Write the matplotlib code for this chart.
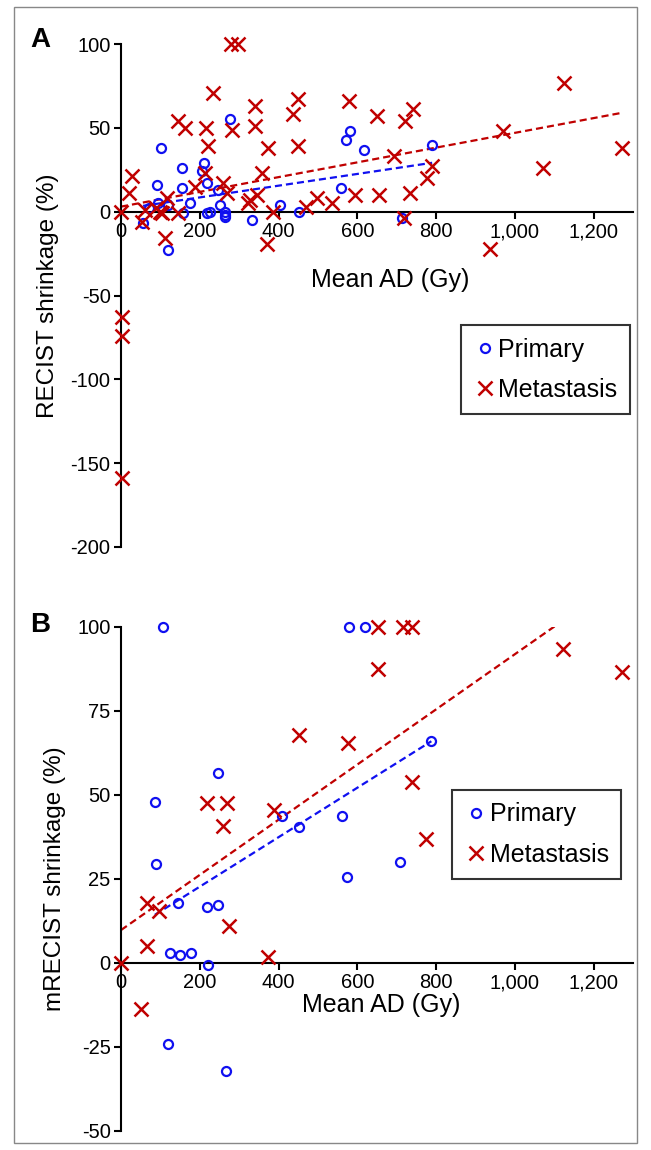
import matplotlib
matplotlib.use("Agg")
import matplotlib.pyplot as plt
from matplotlib.patches import Rectangle
from matplotlib.ticker import FuncFormatter

plt.rcParams["font.family"] = ["Liberation Sans", "DejaVu Sans"]
plt.rcParams["axes.unicode_minus"] = False

# ---------- data ----------
# Panel A: RECIST shrinkage vs mean absorbed dose
a_primary_x = [277, 102, 155, 211, 206, 218, 91, 155, 247, 175, 120, 94, 252, 218, 226,
               264, 264, 265, 157, 56, 72, 332, 404, 452, 120, 582, 572, 616, 790, 559, 714]
a_primary_y = [55, 38, 26, 29, 24, 17, 16, 14, 13, 5, 4, 5, 4, -1, 0,
               0, -2, -3, -1, -7, 2, -5, 4, 0, -23, 48, 43, 37, 40, 14, -4]

a_met_x = [280, 298, 234, 145, 163, 216, 282, 221, 341, 341, 373, 450, 437, 450, 28, 20,
           0, 53, 61, 90, 100, 105, 117, 145, 188, 213, 259, 269, 328, 345, 358, 387,
           112, 371, 323, 579, 650, 742, 722, 694, 790, 778, 734, 656, 595, 536, 498,
           470, 719, 971, 1126, 1072, 1273, 938, 2, 2, 2]
a_met_y = [100, 100, 71, 54, 50, 50, 49, 39, 63, 51, 38, 67, 58, 39, 21, 11,
           0, -6, 1, 2, 0, -1, 8, -1, 15, 23, 17, 11, 7, 10, 23, 0,
           -16, -19, 5, 66, 57, 61, 54, 33, 27, 20, 11, 10, 10, 5, 8,
           3, -4, 48, 77, 26, 38, -22, -63, -74, -159]

# Panel B: mRECIST shrinkage vs mean absorbed dose
b_primary_x = [107, 247, 86, 89, 145, 219, 247, 125, 150, 177, 221, 409, 452, 561,
               574, 709, 579, 620, 788, 120, 267]
b_primary_y = [100, 56.6, 48, 29.5, 18, 16.7, 17.2, 2.9, 2.3, 2.9, -0.7, 43.8, 40.5, 43.8,
               25.6, 30, 100, 100, 66, -24, -32]

b_met_x = [218, 270, 259, 389, 66, 97, 66, 0, 274, 373, 452, 577, 653, 653, 717,
           740, 740, 775, 1123, 1271, 51]
b_met_y = [47.6, 47.6, 40.8, 45.5, 18, 15.4, 5, 0, 11, 1.7, 68, 65.5, 100, 87.5, 100,
           100, 54, 37, 93.5, 86.6, -13.8]

# linear fits (slope, intercept) as drawn in the figure
fit_a_primary = (0.035, 1.5)
fit_a_met = (0.044, 3.0)
fit_b_primary = (0.0736, 8.0)
fit_b_met = (0.0821, 9.8)

x_ticks = [0, 200, 400, 600, 800, 1000, 1200]
a_yticks = [-200, -150, -100, -50, 0, 50, 100]
b_yticks = [-50, -25, 0, 25, 50, 75, 100]

BLUE = "#1010f0"
RED = "#c00000"


def draw_panel(ax, px, py, mx, my, fit_p, fit_m, yticks, ylabel, leg_anchor, xlabel_xy):
    ax.plot(px, py, "o", ms=6.5, mfc="none", mec=BLUE, mew=1.6,
            label="Primary", clip_on=False, zorder=3)
    ax.plot(mx, my, "x", ms=10, mec=RED, mew=1.8,
            label="Metastasis", clip_on=False, zorder=3)
    for xs, (k, b), c in [(px, fit_p, BLUE), (mx, fit_m, RED)]:
        x0, x1 = min(xs), max(xs)
        ax.plot([x0, x1], [k * x0 + b, k * x1 + b], color=c, lw=1.6,
                dashes=(3.2, 1.8), zorder=2)

    ax.set_xlim(0, 1300)
    ax.set_ylim(yticks[0], yticks[-1])
    ax.set_xticks(x_ticks)
    ax.set_yticks(yticks)
    ax.xaxis.set_major_formatter(FuncFormatter(lambda v, p: f"{int(v):,}"))
    ax.spines["top"].set_visible(False)
    ax.spines["right"].set_visible(False)
    ax.spines["bottom"].set_position(("data", 0))
    for s in ("left", "bottom"):
        ax.spines[s].set_linewidth(1.5)
    ax.tick_params(direction="out", length=5, width=1.5, labelsize=14.5, pad=2.5)
    ax.set_ylabel(ylabel, fontsize=17.5, labelpad=8)
    ax.text(xlabel_xy[0], xlabel_xy[1], "Mean AD (Gy)", transform=ax.transAxes,
            ha="center", va="center", fontsize=18)

    leg = ax.legend(loc="upper left", bbox_to_anchor=leg_anchor, fontsize=18,
                    frameon=True, fancybox=False, edgecolor="black",
                    handletextpad=0.1, borderpad=0.5, labelspacing=0.65,
                    handlelength=0.9, borderaxespad=0)
    leg.get_frame().set_linewidth(1.5)


fig = plt.figure(figsize=(6.51, 11.5), dpi=100)

ax_a = fig.add_axes([121 / 651, 1 - 547 / 1150, 512 / 651, 503 / 1150])
draw_panel(ax_a, a_primary_x, a_primary_y, a_met_x, a_met_y,
           fit_a_primary, fit_a_met, a_yticks, "RECIST shrinkage (%)",
           (0.664, 0.441), (0.525, 0.53))

ax_b = fig.add_axes([121 / 651, 1 - 1131 / 1150, 512 / 651, 504 / 1150])
draw_panel(ax_b, b_primary_x, b_primary_y, b_met_x, b_met_y,
           fit_b_primary, fit_b_met, b_yticks, "mRECIST shrinkage (%)",
           (0.6465, 0.677), (0.508, 0.25))

fig.text(40 / 651, 1 - 40 / 1150, "A", fontsize=20, fontweight="bold",
         ha="center", va="center")
fig.text(40 / 651, 1 - 625 / 1150, "B", fontsize=20, fontweight="bold",
         ha="center", va="center")

# thin grey frame round the whole figure
fig.patches.append(Rectangle((14 / 651, 1 - 1143 / 1150), 623 / 651, 1136 / 1150,
                             transform=fig.transFigure, fill=False,
                             edgecolor="#888888", lw=1.0))

fig.savefig("out.png", dpi=100)
